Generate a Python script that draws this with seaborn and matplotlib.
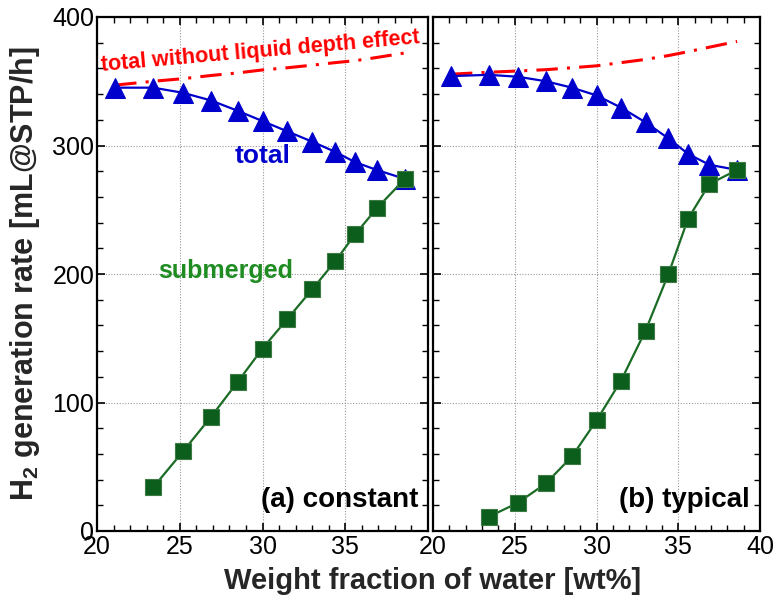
import numpy as np
import pandas as pd
import matplotlib
matplotlib.use("Agg")
import matplotlib.pyplot as plt
from matplotlib.ticker import MultipleLocator
import seaborn as sns

# ---- data ----
water_total = [21.1, 23.4, 25.2, 26.9, 28.5, 30.0, 31.5, 33.0, 34.4, 35.6, 36.9, 38.6]
water_sub = [23.4, 25.2, 26.9, 28.5, 30.0, 31.5, 33.0, 34.4, 35.6, 36.9, 38.6]

a_total = [345, 345, 341, 335, 327, 319, 311, 303, 295, 287, 281, 274]
a_sub = [34, 62, 89, 116, 142, 165, 188, 210, 231, 251, 274]
a_nodepth = [347, 350, 352, 354.5, 356.5, 358.8, 360.5, 362.5, 364.5, 366, 368.5, 372]

b_total = [354, 355, 353.5, 350, 345, 339, 329.5, 318, 305.5, 293.5, 285, 281]
b_sub = [11, 22, 37, 58, 86, 117, 156, 200, 243, 270, 281]
b_nodepth = [355.5, 357, 358, 359, 360.5, 362, 364.5, 367, 370, 373, 376.5, 381]

panel_labels = ["(a) constant", "(b) typical"]
x_ticks = [20, 25, 30, 35, 40]
y_ticks = [0, 100, 200, 300, 400]

sns.set_style("ticks")
plt.rcParams["font.family"] = ["Liberation Sans", "DejaVu Sans"]
plt.rcParams["mathtext.fontset"] = "custom"
plt.rcParams["mathtext.rm"] = "Liberation Sans"
plt.rcParams["mathtext.bf"] = "Liberation Sans:bold"

fig = plt.figure(figsize=(7.77, 5.98), dpi=100)
ax_a = fig.add_axes([97 / 777, 1 - 531 / 598, (428 - 97) / 777, (531 - 17) / 598])
ax_b = fig.add_axes([433 / 777, 1 - 531 / 598, (760 - 433) / 777, (531 - 17) / 598])

BLUE = "#0000cc"
GREEN_M = "#0b5e1c"
GREEN_L = "#1a6b24"
GREEN_T = "#1f8c22"
RED = "#ff0000"

datasets = [
    (ax_a, a_total, a_sub, a_nodepth),
    (ax_b, b_total, b_sub, b_nodepth),
]

for i, (ax, tot, sub, nod) in enumerate(datasets):
    df_nod = pd.DataFrame({"x": water_total, "y": nod})
    df_tot = pd.DataFrame({"x": water_total, "y": tot})
    df_sub = pd.DataFrame({"x": water_sub, "y": sub})
    sns.lineplot(data=df_nod, x="x", y="y", ax=ax, color=RED, lw=2.2,
                 linestyle=(0, (7, 3, 1, 3)), sort=False, zorder=3)
    sns.lineplot(data=df_tot, x="x", y="y", ax=ax, color=BLUE, lw=1.6,
                 marker="^", markersize=15, markeredgecolor=BLUE,
                 markerfacecolor=BLUE, sort=False, zorder=4)
    sns.lineplot(data=df_sub, x="x", y="y", ax=ax, color=GREEN_L, lw=1.6,
                 marker="s", markersize=11, markeredgecolor="#3d7a45",
                 markeredgewidth=0.8, markerfacecolor=GREEN_M, sort=False, zorder=5)

    ax.set_xlim(20, 40)
    ax.set_ylim(0, 400)
    ax.set_xticks(x_ticks)
    ax.set_yticks(y_ticks)
    ax.xaxis.set_minor_locator(MultipleLocator(1))
    ax.yaxis.set_minor_locator(MultipleLocator(20))
    ax.tick_params(which="both", direction="in", top=True, right=True,
                   colors="black", labelsize=18, width=1.2)
    ax.tick_params(which="major", length=6)
    ax.tick_params(axis="x", which="major", pad=3)
    ax.tick_params(axis="y", which="major", pad=2)
    ax.tick_params(which="minor", length=4, width=1.0)
    ax.grid(True, which="major", linestyle=(0, (1, 1.5)), color="#999999", lw=0.8)
    for s in ax.spines.values():
        s.set_linewidth(1.6)
        s.set_color("black")
    ax.set_xlabel("")
    ax.set_ylabel("")
    ax.text(0.97, 0.035, panel_labels[i], transform=ax.transAxes, ha="right",
            va="bottom", fontsize=20, fontweight="bold", color="black")

ax_a.set_xticklabels(["20", "25", "30", "35", ""])
ax_b.set_yticklabels([])
ax_a.set_ylabel("H$_\\mathbf{2}$ generation rate [mL@STP/h]", fontsize=22,
                fontweight="bold")
ax_a.yaxis.set_label_coords(-0.165, 0.5)

ax_a.text(30.0, 292, "total", color=BLUE, fontsize=19, fontweight="bold",
          ha="center", va="center")
ax_a.text(27.8, 202, "submerged", color=GREEN_T, fontsize=18, fontweight="bold",
          ha="center", va="center")
ax_a.text(29.9, 373, "total without liquid depth effect", color=RED, fontsize=15.5,
          fontweight="bold", ha="center", va="center", rotation=5)

fig.text(433 / 777, 1 - 581 / 598, "Weight fraction of water [wt%]", ha="center",
         va="center", fontsize=21, fontweight="bold")

fig.savefig("out.png", dpi=100)
